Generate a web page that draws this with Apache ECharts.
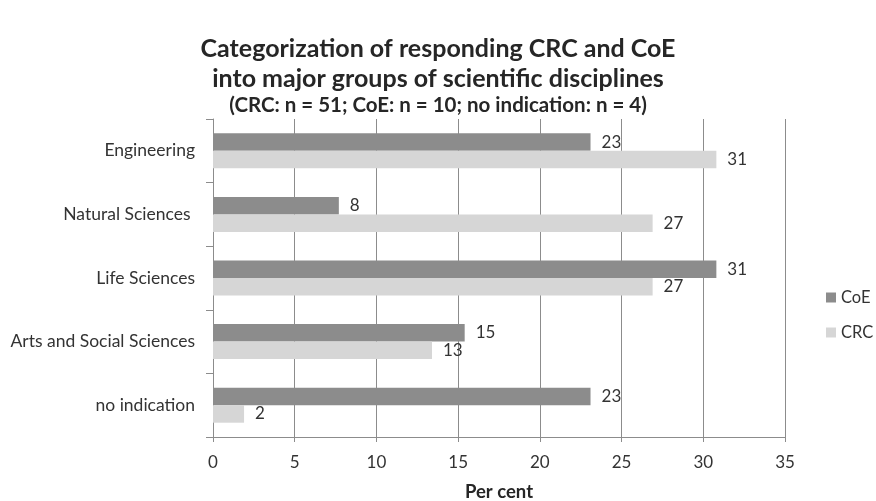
<!DOCTYPE html>
<html>
<head>
<meta charset="utf-8">
<script src="https://cdn.jsdelivr.net/npm/echarts@6/dist/echarts.min.js"></script>
<style>html,body{margin:0;padding:0;background:#fff}#c{width:876px;height:501px}</style>
</head>
<body>
<div id="c"></div>
<script>
const categories = ["Engineering", "Natural Sciences ", "Life Sciences", "Arts and Social Sciences", "no indication"];
const coeValues = [23.1, 7.7, 30.8, 15.4, 23.1];
const crcValues = [30.8, 26.9, 26.9, 13.4, 1.9];
const xTicks = [0, 5, 10, 15, 20, 25, 30, 35];

const FONT = 'Lato, "Open Sans", sans-serif';
const chart = echarts.init(document.getElementById('c'));
const lbl = {
  show: true, position: 'right', distance: 11, color: '#333', fontSize: 17, fontFamily: FONT,
  formatter: p => Math.round(p.value)
};
chart.setOption({
  animation: false,
  textStyle: { fontFamily: FONT },
  title: {
    text: 'Categorization of responding CRC and CoE\ninto major groups of scientific disciplines',
    subtext: '(CRC: n = 51; CoE: n = 10; no indication: n = 4)',
    left: 'center', top: 29, itemGap: 0,
    textStyle: { fontSize: 25, fontWeight: 'bold', color: '#262626', lineHeight: 30, fontFamily: FONT },
    subtextStyle: { fontSize: 20.5, fontWeight: 'bold', color: '#262626', lineHeight: 22, fontFamily: FONT }
  },
  legend: {
    orient: 'vertical', left: 821, top: 284, itemWidth: 10, itemHeight: 10, itemGap: 18,
    icon: 'rect', textStyle: { fontSize: 16.5, color: '#333', fontFamily: FONT },
    data: ['CoE', 'CRC']
  },
  grid: { left: 213, right: 91, top: 119, bottom: 64, outerBoundsMode: 'none', containLabel: false },
  xAxis: {
    type: 'value', min: 0, max: 35, interval: 5,
    name: 'Per cent', nameLocation: 'middle', nameGap: 46,
    nameTextStyle: { fontSize: 18.5, fontWeight: 'bold', color: '#262626' },
    axisLine: { show: true, lineStyle: { color: '#8c8c8c' } },
    axisTick: { show: true, length: 5, lineStyle: { color: '#8c8c8c' } },
    axisLabel: { fontSize: 17, color: '#333', margin: 17, formatter: v => xTicks.includes(v) ? String(v) : '' },
    splitLine: { show: true, lineStyle: { color: '#8c8c8c', width: 1 } }
  },
  yAxis: {
    type: 'category', data: categories, inverse: true,
    axisLine: { show: true, lineStyle: { color: '#8c8c8c' } },
    axisTick: { show: true, length: 7, inside: false, lineStyle: { color: '#8c8c8c' } },
    axisLabel: { fontSize: 17.5, color: '#333', margin: 18 }
  },
  series: [
    { name: 'CoE', type: 'bar', data: coeValues, barWidth: 17.5, barGap: '0%',
      itemStyle: { color: '#8c8c8c' }, label: lbl },
    { name: 'CRC', type: 'bar', data: crcValues, barWidth: 17.5, barGap: '0%',
      itemStyle: { color: '#d6d6d6' }, label: lbl }
  ]
});
</script>
</body>
</html>
